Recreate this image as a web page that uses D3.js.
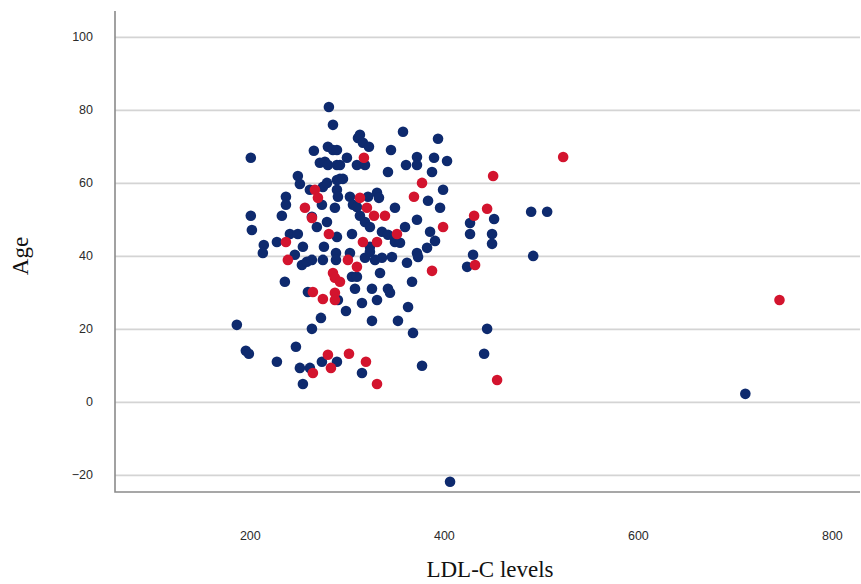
<!DOCTYPE html>
<html>
<head>
<meta charset="utf-8">
<script src="https://cdn.jsdelivr.net/npm/d3@7"></script>
<style>
    body { margin: 0; background: #fff; }
    .tickLabel { font-family: "Liberation Sans", Arial, sans-serif; font-size: 12.5px; fill: #2b2b2b; }
    .axisTitle { font-family: "Liberation Serif", "Times New Roman", serif; font-size: 23px; fill: #111; }
</style>
</head>
<body>
<div id="chart"></div>
<script>
// LDL-C levels (x) and Age (y), group 1 (blue)
const blueLdl = [186.6, 195.9, 199.0, 201.0, 201.0, 202.1, 214.4, 213.4, 227.9, 227.9, 233.0, 236.1, 237.2, 237.2, 241.3, 246.4,
    247.5, 249.5, 251.6, 249.5, 253.7, 254.7, 254.7, 251.6, 258.8, 261.9, 261.9, 264.0, 264.0, 264.0, 266.0, 259.9, 269.1, 272.2,
    273.3, 274.3, 274.3, 275.3, 275.3, 277.4, 276.4, 279.5, 279.5, 280.5, 280.5, 281.5, 285.7, 285.7, 289.8, 289.8, 289.8, 289.8,
    290.8, 289.8, 288.8, 288.8, 287.7, 290.8, 289.8, 292.9, 292.9, 296.0, 300.1, 299.1, 303.2, 303.2, 305.3, 305.3, 306.3, 310.4,
    310.4, 310.4, 308.4, 311.5, 313.5, 316.6, 322.8, 313.5, 315.6, 315.6, 318.7, 318.7, 318.7, 321.8, 323.8, 323.8, 323.8, 325.9,
    325.9, 329.0, 331.1, 333.1, 331.1, 334.2, 336.2, 336.2, 342.4, 342.4, 342.4, 344.5, 345.5, 346.5, 349.6, 349.6, 349.6, 354.8,
    352.7, 357.9, 360.0, 361.0, 362.0, 363.1, 367.2, 368.2, 372.3, 372.3, 372.3, 372.3, 373.4, 377.5, 382.7, 383.7, 385.8, 387.8,
    389.9, 390.9, 394.0, 396.1, 399.2, 403.3, 406.4, 424.0, 427.0, 427.0, 430.1, 441.5, 444.6, 449.7, 449.7, 451.8, 490.0, 506.5,
    492.1, 710.8];
const blueAge = [21.1, 14.0, 13.2, 66.9, 51.0, 47.1, 43.0, 40.8, 43.8, 11.0, 51.0, 32.9, 56.2, 54.0, 46.0, 40.3,
    15.1, 61.9, 59.7, 46.0, 37.5, 42.5, 4.9, 9.3, 38.4, 58.1, 9.3, 38.9, 50.7, 20.0, 68.8, 30.1, 47.9, 65.5,
    23.0, 54.0, 11.0, 38.9, 58.9, 65.8, 42.5, 60.0, 49.3, 64.9, 69.9, 80.8, 75.9, 69.0, 69.0, 64.9, 60.8, 58.1,
    56.2, 45.2, 40.8, 38.9, 53.2, 27.9, 11.0, 64.9, 61.1, 61.1, 66.9, 24.9, 56.2, 40.8, 46.0, 34.3, 54.0, 53.4,
    64.9, 34.3, 31.0, 72.3, 73.2, 71.0, 69.9, 51.0, 27.1, 7.9, 64.9, 49.3, 39.5, 56.2, 47.9, 42.5, 41.1, 31.0,
    22.2, 38.9, 57.3, 55.9, 27.9, 35.3, 39.5, 46.6, 45.8, 63.0, 31.0, 29.9, 69.0, 39.7, 53.2, 44.9, 43.8, 43.6,
    22.2, 74.0, 47.9, 64.9, 38.1, 26.0, 32.9, 18.9, 67.1, 64.9, 49.9, 40.8, 39.7, 9.9, 42.2, 55.1, 46.6, 63.0,
    66.9, 44.1, 72.1, 53.2, 58.1, 66.0, -21.9, 37.0, 49.0, 46.0, 40.3, 13.2, 20.0, 46.0, 43.3, 50.1, 52.1, 52.1,
    40.0, 2.2];

// group 2 (red)
const redLdl = [237.2, 239.2, 256.8, 264.0, 267.1, 270.2, 265.0, 265.0, 275.3, 280.5, 283.6, 281.5, 285.7, 287.7, 292.9,
    287.7, 287.7, 301.1, 302.2, 310.4, 313.5, 316.6, 317.6, 319.7, 320.7, 328.0, 331.1, 331.1, 339.3, 351.7, 369.2,
    377.5, 387.8, 399.2, 431.2, 432.2, 444.6, 450.8, 454.9, 523.0, 746.0];
const redAge = [43.8, 38.9, 53.2, 50.4, 58.1, 55.9, 30.1, 7.9, 28.2, 12.9, 9.3, 46.0, 35.3, 34.0, 32.9,
    29.9, 27.9, 38.9, 13.2, 37.0, 55.9, 43.8, 66.9, 11.0, 53.2, 51.0, 43.8, 4.9, 51.0, 46.0, 56.2,
    60.0, 35.9, 47.9, 51.0, 37.5, 52.9, 61.9, 6.0, 67.1, 27.9];

const xTicks = [200, 400, 600, 800];
const yTicks = [-20, 0, 20, 40, 60, 80, 100];
const xTitle = "LDL-C levels";
const yTitle = "Age";

const width = 861, height = 584;
const plot = { left: 115, right: 860, top: 11, bottom: 492 };

const svg = d3.select("#chart").append("svg")
    .attr("width", width)
    .attr("height", height);

const xScale = d3.scaleLinear().domain([61, 829]).range([plot.left, plot.right]);
const yScale = d3.scaleLinear().domain([-24.7, 107.1]).range([plot.bottom, plot.top]);

// gridlines
svg.append("g")
    .attr("class", "grid")
    .attr("transform", "translate(" + plot.left + ",0)")
    .call(d3.axisLeft(yScale).tickValues(yTicks).tickSize(-(plot.right - plot.left)).tickFormat(""))
    .call(g => g.select(".domain").remove())
    .call(g => g.selectAll("line").attr("stroke", "#d4d4d4").attr("stroke-width", 1.6));

// y axis labels
const yAxisG = svg.append("g")
    .attr("transform", "translate(" + plot.left + ",0)")
    .call(d3.axisLeft(yScale).tickValues(yTicks).tickSize(0).tickPadding(22));
yAxisG.select(".domain").remove();
yAxisG.selectAll("text").attr("class", "tickLabel").attr("font-family", null).attr("font-size", null);

// x axis labels
const xAxisG = svg.append("g")
    .attr("transform", "translate(0," + plot.bottom + ")")
    .call(d3.axisBottom(xScale).tickValues(xTicks).tickSize(0).tickPadding(39));
xAxisG.select(".domain").remove();
xAxisG.selectAll("text").attr("class", "tickLabel").attr("font-family", null).attr("font-size", null);

// axis lines
svg.append("path")
    .attr("d", "M" + plot.left + "," + plot.top + "V" + plot.bottom + "H" + plot.right)
    .attr("fill", "none")
    .attr("stroke", "#8a8a8a")
    .attr("stroke-width", 1.6);

// axis titles
svg.append("text")
    .attr("class", "axisTitle")
    .attr("transform", "translate(28," + 256 + ") rotate(-90)")
    .attr("text-anchor", "middle")
    .text(yTitle);

svg.append("text")
    .attr("class", "axisTitle")
    .attr("x", 490)
    .attr("y", 577)
    .attr("text-anchor", "middle")
    .text(xTitle);

// points
const blueData = blueLdl.map((v, i) => ({ ldl: v, age: blueAge[i] }));
const redData = redLdl.map((v, i) => ({ ldl: v, age: redAge[i] }));

const dotsG = svg.append("g").attr("class", "allDotsG");

dotsG.selectAll(".blueDot")
    .data(blueData)
    .join("circle")
    .attr("class", "blueDot")
    .attr("cx", d => xScale(d.ldl))
    .attr("cy", d => yScale(d.age))
    .attr("r", 5.3)
    .attr("fill", "#0e2a6e");

dotsG.selectAll(".redDot")
    .data(redData)
    .join("circle")
    .attr("class", "redDot")
    .attr("cx", d => xScale(d.ldl))
    .attr("cy", d => yScale(d.age))
    .attr("r", 5.3)
    .attr("fill", "#d3142e");
</script>
</body>
</html>
